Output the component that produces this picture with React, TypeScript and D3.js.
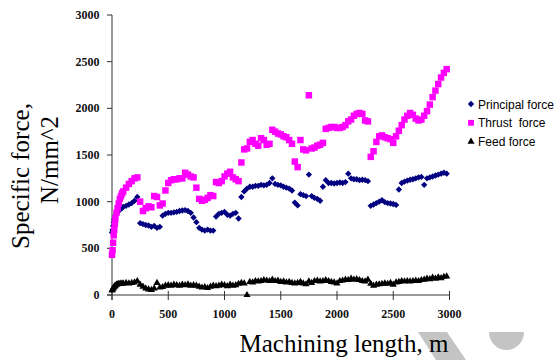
import React from "react";
import * as d3 from "d3";

const lengths = [
  0, 5, 10, 15, 20, 25, 30, 40, 50, 60, 70, 80, 90,
  100, 125, 150, 175, 200, 225, 250, 275, 300, 325, 350, 375, 400, 425, 450, 475,
  500, 525, 550, 575, 600, 625, 650, 675, 700, 725, 750, 775, 800, 825, 850, 875,
  900, 925, 950, 975, 1000, 1025, 1050, 1075, 1100, 1125, 1150, 1175, 1200, 1225, 1250, 1275,
  1300, 1325, 1350, 1375, 1400, 1425, 1450, 1475, 1500, 1525, 1550, 1575, 1600, 1625, 1650, 1675,
  1700, 1725, 1750, 1775, 1800, 1825, 1850, 1875, 1900, 1925, 1950, 1975, 2000, 2025, 2050, 2075,
  2100, 2125, 2150, 2175, 2200, 2225, 2250, 2275, 2300, 2325, 2350, 2375, 2400, 2425, 2450, 2475,
  2500, 2525, 2550, 2575, 2600, 2625, 2650, 2675, 2700, 2725, 2750, 2775, 2800, 2825, 2850, 2875,
  2900, 2925, 2950, 2975,
];

const principalForce = [
  670, 700, 740, 780, 810, 830, 850, 870, 890, 905, 915, 925, 935,
  945, 955, 970, 985, 1010, 1050, 770, 760, 750, 745, 730, 740, 720, 730, 850, 870,
  880, 880, 885, 890, 900, 905, 910, 900, 880, 830, 780, 720, 700, 690, 700, 690,
  690, 840, 870, 880, 890, 860, 850, 870, 880, 820, 1050, 1110, 1140, 1160, 1160, 1170,
  1170, 1180, 1175, 1180, 1200, 1250, 1190, 1180, 1175, 1160, 1150, 1140, 1120, 990, 960, 1080,
  1070, 1060, 1290, 1060, 1040, 1030, 1010, 1160, 1230, 1200, 1200, 1195, 1200, 1205, 1200, 1210,
  1300, 1250, 1240, 1240, 1230, 1235, 1230, 1220, 955, 970, 985, 1000, 1015, 995, 985, 980,
  975, 965, 1130, 1200, 1215, 1225, 1235, 1240, 1250, 1260, 1265, 1180, 1250, 1260, 1270, 1280,
  1290, 1300, 1310, 1300,
];

const thrustForce = [
  430, 480, 560, 640, 700, 760, 820, 880, 930, 980, 1030, 1060, 1090,
  1110, 1150, 1190, 1220, 1250, 1260, 1000, 900, 930, 950, 940, 1060, 1050, 960, 980, 1120,
  1200, 1230, 1240, 1240, 1250, 1250, 1310, 1290, 1270, 1260, 1150, 1030, 1010, 1020, 1040, 1070,
  1060, 1210, 1200, 1220, 1270, 1300, 1320, 1260, 1240, 1220, 1420, 1560, 1570, 1640, 1660, 1620,
  1600, 1680, 1660, 1610, 1620, 1770, 1750, 1730, 1720, 1700, 1690, 1660, 1620, 1430, 1370, 1660,
  1560, 1550, 2140, 1570, 1580, 1600, 1610, 1630, 1780, 1790, 1800, 1800, 1790, 1790, 1800, 1820,
  1860, 1880, 1920, 1940, 1950, 1940, 1870, 1860, 1480, 1540, 1640, 1700, 1710, 1690, 1680, 1670,
  1630, 1700, 1760, 1820, 1880, 1920, 1950, 1930, 1890, 1870, 1880, 1920, 1970, 2040, 2120, 2190,
  2260, 2330, 2380, 2420,
];

const feedForce = [
  50, 60, 70, 80, 90, 95, 100, 110, 115, 120, 120, 125, 120,
  125, 130, 125, 130, 135, 150, 110, 90, 70, 60, 55, 70, 130, 80, 85, 100,
  105, 100, 110, 105, 100, 110, 105, 115, 100, 105, 100, 90, 80, 85, 75, 90,
  100, 95, 100, 110, 105, 95, 110, 100, 105, 120, 130, 125, 0, 140, 135, 150,
  145, 150, 160, 155, 150, 165, 150, 155, 140, 145, 135, 140, 130, 125, 130, 140,
  125, 115, 145, 130, 150, 155, 145, 150, 160, 150, 140, 135, 125, 150, 155, 165,
  160, 175, 165, 170, 160, 150, 145, 165, 120, 100, 110, 115, 120, 125, 120, 130,
  110, 135, 140, 150, 145, 150, 145, 150, 155, 150, 160, 165, 175, 170, 185, 175,
  190, 180, 195, 200,
];

const tickValues = [0, 500, 1000, 1500, 2000, 2500, 3000];
const legendLabels = ["Principal force", "Thrust  force", "Feed force"];

const W = 558;
const H = 360;

export default function App() {
  const x = d3.scaleLinear().domain([0, 3000]).range([112, 449.5]);
  const y = d3.scaleLinear().domain([0, 3000]).range([295, 15]);

  const diamond = d3.symbol(d3.symbolSquare, 20)()!;
  const square = d3.symbol(d3.symbolSquare, 42)()!;
  const triangle = d3.symbol(d3.symbolTriangle, 22)()!;

  const serif = "'Liberation Serif', 'Times New Roman', serif";
  const sans = "'Liberation Sans', Arial, sans-serif";
  const axisColor = "#333";

  return (
    <svg
      width={W}
      height={H}
      style={{ position: "absolute", left: 0, top: 0, background: "#fff" }}
    >
      <rect x={0} y={0} width={W} height={H} fill="#fff" />

      {/* watermark */}
      <path d="M418,332 L447,332 L466,360 L436,360 Z" fill="#c4c4c4" />
      <path d="M489,332 A17.5,18 0 0 0 524,332 Z" fill="#c4c4c4" />

      {/* axes */}
      <line x1={x(0)} x2={x(0)} y1={y(3000)} y2={y(0) + 5} stroke={axisColor} strokeWidth={1} />
      <line x1={x(0) - 5} x2={x(3000)} y1={y(0)} y2={y(0)} stroke={axisColor} strokeWidth={1} />
      {tickValues.map((t) => (
        <g key={"y" + t}>
          <line x1={x(0) - 5} x2={x(0)} y1={y(t)} y2={y(t)} stroke={axisColor} />
          <text
            x={99.5}
            y={y(t) + 4}
            textAnchor="end"
            fontFamily={serif}
            fontWeight="bold"
            fontSize={12}
            fill="#111"
          >
            {t}
          </text>
        </g>
      ))}
      {tickValues.map((t) => (
        <g key={"x" + t}>
          <line x1={x(t)} x2={x(t)} y1={y(0) - 4} y2={y(0) + 5} stroke={axisColor} />
          <text
            x={x(t)}
            y={318}
            textAnchor="middle"
            fontFamily={serif}
            fontWeight="bold"
            fontSize={12}
            fill="#111"
          >
            {t}
          </text>
        </g>
      ))}

      {/* series */}
      <g fill="#000080">
        {lengths.map((l, i) => (
          <path
            key={"p" + i}
            d={diamond}
            transform={`translate(${x(l)},${y(principalForce[i])}) rotate(45)`}
          />
        ))}
      </g>
      <g fill="#FF00FF">
        {lengths.map((l, i) => (
          <path key={"t" + i} d={square} transform={`translate(${x(l)},${y(thrustForce[i])})`} />
        ))}
      </g>
      <g fill="#000">
        {lengths.map((l, i) => (
          <path key={"f" + i} d={triangle} transform={`translate(${x(l)},${y(feedForce[i])})`} />
        ))}
      </g>

      {/* axis titles */}
      <text
        transform="translate(29,176) rotate(-90)"
        textAnchor="middle"
        fontFamily={serif}
        fontSize={25}
        fill="#000"
      >
        Specific force,
      </text>
      <text
        transform="translate(58,160) rotate(-90)"
        textAnchor="middle"
        fontFamily={serif}
        fontSize={25}
        fill="#000"
      >
        N/mm^2
      </text>
      <text x={344} y={352} textAnchor="middle" fontFamily={serif} fontSize={25} fill="#000">
        Machining length, m
      </text>

      {/* legend */}
      {legendLabels.map((lab, i) => {
        const cy = 104 + i * 18.8;
        const marker = i === 0 ? diamond : i === 1 ? d3.symbol(d3.symbolSquare, 34)()! : triangle;
        const color = i === 0 ? "#000080" : i === 1 ? "#FF00FF" : "#000";
        return (
          <g key={"lg" + i}>
            <path
              d={marker}
              fill={color}
              transform={`translate(471,${cy})${i === 0 ? " rotate(45)" : ""}`}
            />
            <text
              x={478}
              y={cy + 4.5}
              fontFamily={sans}
              fontSize={12}
              fill="#000"
              style={{ whiteSpace: "pre" }}
            >
              {lab}
            </text>
          </g>
        );
      })}
    </svg>
  );
}
